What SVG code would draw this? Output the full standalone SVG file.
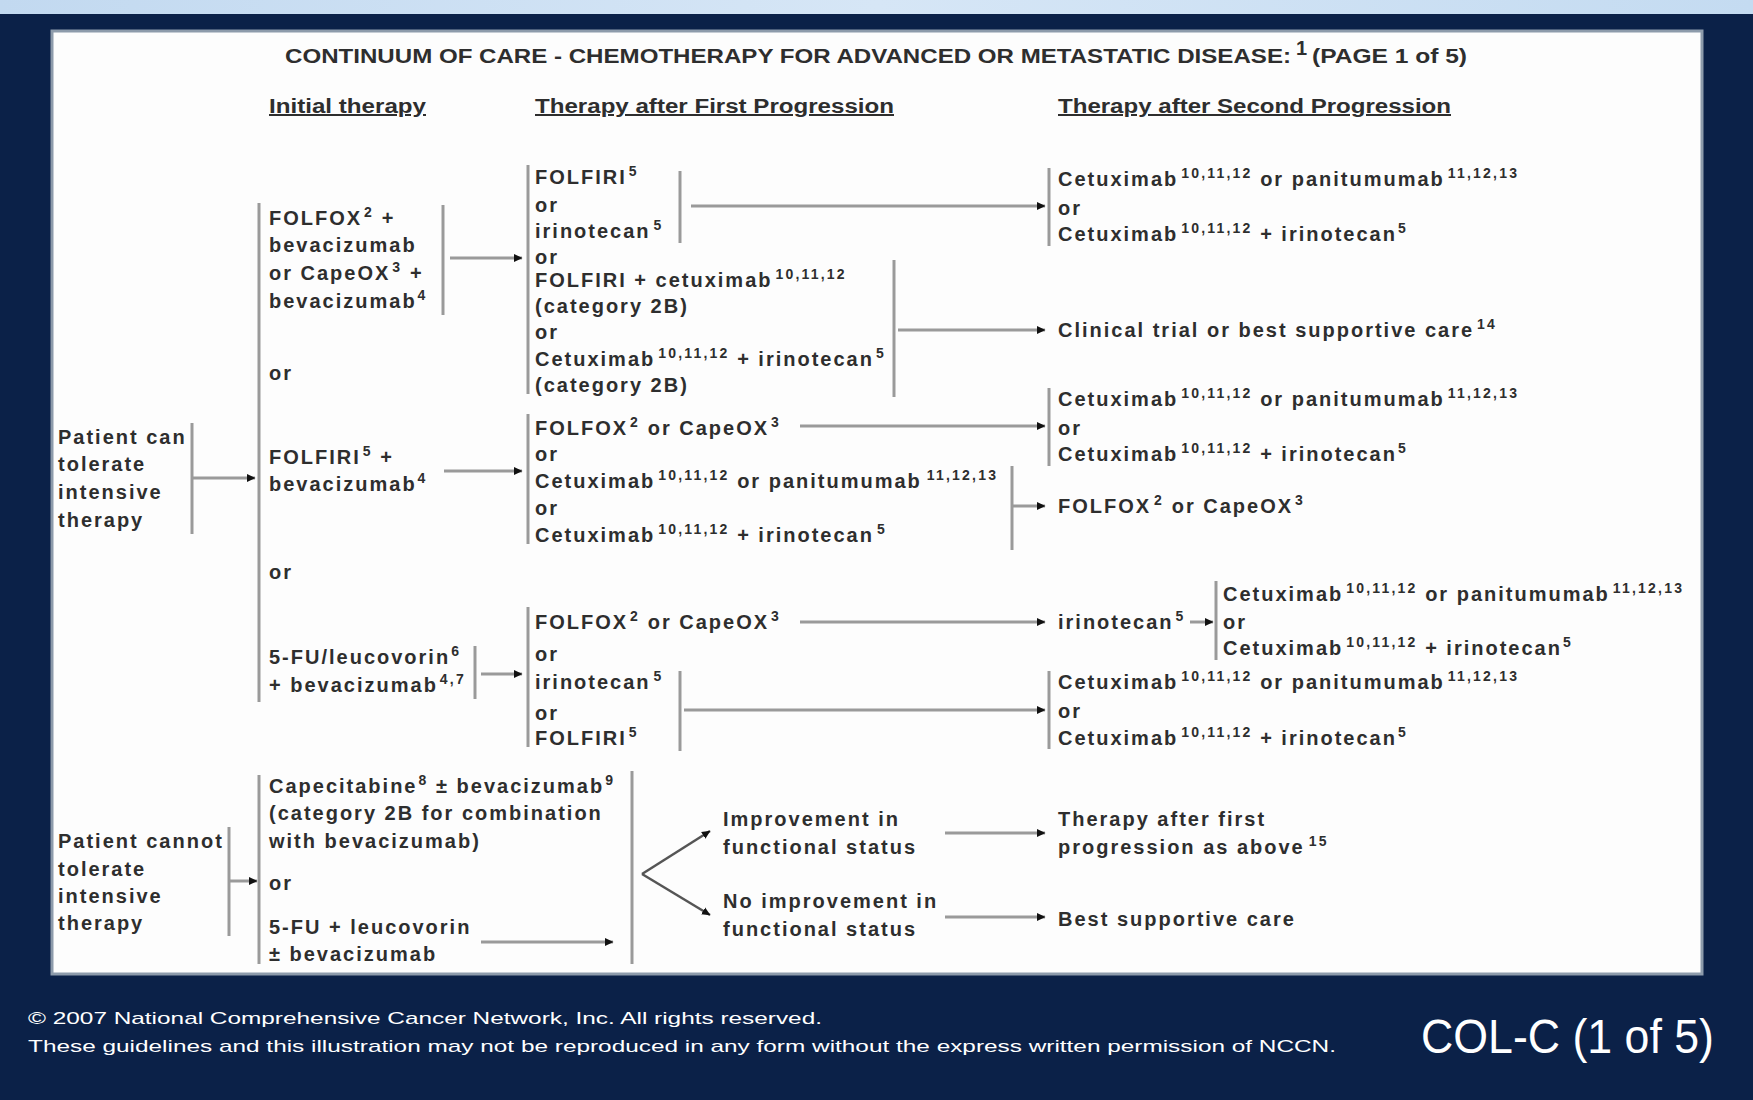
<svg xmlns="http://www.w3.org/2000/svg" width="1753" height="1100" viewBox="0 0 1753 1100">
<defs>
<linearGradient id="band" x1="0" y1="0" x2="1" y2="0">
<stop offset="0" stop-color="#c2d9f0"/><stop offset="0.5" stop-color="#d6e6f6"/><stop offset="1" stop-color="#c4dbf1"/>
</linearGradient>
<marker id="ah" markerWidth="9" markerHeight="9" refX="8" refY="4.5" orient="auto" markerUnits="userSpaceOnUse">
<path d="M0,0.5 L8.5,4.5 L0,8.5 z" fill="#111"/>
</marker>
<style>
.t{font-family:"Liberation Sans",Arial,sans-serif;font-weight:bold;font-size:20px;letter-spacing:2px;fill:#2e2e2e}
.s{font-size:14px;letter-spacing:2.2px}
.h{font-family:"Liberation Sans",Arial,sans-serif;font-weight:bold;font-size:20px;fill:#2e2e2e;text-decoration:underline}
.ttl{font-family:"Liberation Sans",Arial,sans-serif;font-weight:bold;font-size:20px;fill:#2e2e2e}
.ft{font-family:"Liberation Sans",Arial,sans-serif;font-size:17px;fill:#ffffff}
.ln{stroke:#9a9a9a;stroke-width:3;fill:none}
.ar{stroke:#9a9a9a;stroke-width:3;fill:none;marker-end:url(#ah)}
</style>
</defs>
<rect x="0" y="0" width="1753" height="1100" fill="#0b2148"/>
<rect x="0" y="0" width="1753" height="14" fill="url(#band)"/>
<rect x="52" y="31" width="1650" height="943" fill="#fdfdfd" stroke="#8d9bab" stroke-width="3"/>

<g id="title">
<text class="ttl" x="285" y="63" textLength="1006" lengthAdjust="spacingAndGlyphs">CONTINUUM OF CARE - CHEMOTHERAPY FOR ADVANCED OR METASTATIC DISEASE:</text>
<text class="ttl" x="1296" y="55" font-size="12">1</text>
<text class="ttl" x="1312" y="63" textLength="155" lengthAdjust="spacingAndGlyphs">(PAGE 1 of 5)</text>
</g>
<g id="headers">
<text class="h" x="269" y="113" textLength="157" lengthAdjust="spacingAndGlyphs">Initial therapy</text>
<text class="h" x="535" y="113" textLength="359" lengthAdjust="spacingAndGlyphs">Therapy after First Progression</text>
<text class="h" x="1058" y="113" textLength="393" lengthAdjust="spacingAndGlyphs">Therapy after Second Progression</text>
</g>

<g id="connectors">
<line class="ln" x1="192" y1="423" x2="192" y2="534"/>
<line class="ar" x1="192" y1="478" x2="255" y2="478"/>
<line class="ln" x1="259" y1="203" x2="259" y2="702"/>
<line class="ln" x1="443" y1="205" x2="443" y2="315"/>
<line class="ar" x1="450" y1="258" x2="522" y2="258"/>
<line class="ar" x1="444" y1="471" x2="522" y2="471"/>
<line class="ln" x1="475" y1="646" x2="475" y2="699"/>
<line class="ar" x1="481" y1="674" x2="522" y2="674"/>
<line class="ln" x1="528" y1="165" x2="528" y2="394"/>
<line class="ln" x1="680" y1="171" x2="680" y2="243"/>
<line class="ar" x1="691" y1="206" x2="1045" y2="206"/>
<line class="ln" x1="894" y1="260" x2="894" y2="397"/>
<line class="ar" x1="898" y1="330" x2="1045" y2="330"/>
<line class="ln" x1="528" y1="414" x2="528" y2="544"/>
<line class="ar" x1="800" y1="426" x2="1045" y2="426"/>
<line class="ln" x1="1012" y1="466" x2="1012" y2="550"/>
<line class="ar" x1="1012" y1="506" x2="1045" y2="506"/>
<line class="ln" x1="528" y1="607" x2="528" y2="747"/>
<line class="ar" x1="800" y1="622" x2="1045" y2="622"/>
<line class="ln" x1="680" y1="671" x2="680" y2="751"/>
<line class="ar" x1="684" y1="710" x2="1045" y2="710"/>
<line class="ln" x1="1049" y1="168" x2="1049" y2="246"/>
<line class="ln" x1="1049" y1="388" x2="1049" y2="466"/>
<line class="ln" x1="1216" y1="581" x2="1216" y2="660"/>
<line class="ar" x1="1190" y1="622" x2="1213" y2="622"/>
<line class="ln" x1="1049" y1="671" x2="1049" y2="749"/>
<line class="ln" x1="229" y1="827" x2="229" y2="936"/>
<line class="ar" x1="229" y1="881" x2="257" y2="881"/>
<line class="ln" x1="259" y1="775" x2="259" y2="964"/>
<line class="ar" x1="481" y1="942" x2="613" y2="942"/>
<line class="ln" x1="632" y1="771" x2="632" y2="964"/>
<line class="ar" x1="642" y1="874" x2="710" y2="831" style="stroke:#555;stroke-width:2.5"/>
<line class="ar" x1="642" y1="874" x2="710" y2="915" style="stroke:#555;stroke-width:2.5"/>
<line class="ar" x1="945" y1="833" x2="1045" y2="833"/>
<line class="ar" x1="945" y1="917" x2="1045" y2="917"/>
</g>

<g id="patient-can">
<text class="t" x="58" y="444">Patient can</text>
<text class="t" x="58" y="471">tolerate</text>
<text class="t" x="58" y="499">intensive</text>
<text class="t" x="58" y="527">therapy</text>
</g>
<g id="init-folfox">
<text class="t" x="269" y="225">FOLFOX<tspan class="s" dx="2" dy="-8">2</tspan><tspan dy="8"> +</tspan></text>
<text class="t" x="269" y="252">bevacizumab</text>
<text class="t" x="269" y="280">or CapeOX<tspan class="s" dx="2" dy="-8">3</tspan><tspan dy="8"> +</tspan></text>
<text class="t" x="269" y="308">bevacizumab<tspan class="s" dx="1" dy="-8">4</tspan></text>
</g>
<g id="or-1"><text class="t" x="269" y="380">or</text></g>
<g id="init-folfiri">
<text class="t" x="269" y="464">FOLFIRI<tspan class="s" dx="2" dy="-8">5</tspan><tspan dy="8"> +</tspan></text>
<text class="t" x="269" y="491">bevacizumab<tspan class="s" dx="1" dy="-8">4</tspan></text>
</g>
<g id="or-2"><text class="t" x="269" y="579">or</text></g>
<g id="init-5fu">
<text class="t" x="269" y="664">5-FU/leucovorin<tspan class="s" dx="1" dy="-8">6</tspan></text>
<text class="t" x="269" y="692">+ bevacizumab<tspan class="s" dx="2" dy="-8">4,7</tspan></text>
</g>

<g id="fp-1">
<text class="t" x="535" y="184">FOLFIRI<tspan class="s" dx="2" dy="-8">5</tspan></text>
<text class="t" x="535" y="212">or</text>
<text class="t" x="535" y="238">irinotecan<tspan class="s" dx="3" dy="-8">5</tspan></text>
<text class="t" x="535" y="264">or</text>
<text class="t" x="535" y="287">FOLFIRI + cetuximab<tspan class="s" dx="3" dy="-8">10,11,12</tspan></text>
<text class="t" x="535" y="313">(category 2B)</text>
<text class="t" x="535" y="339">or</text>
<text class="t" x="535" y="366">Cetuximab<tspan class="s" dx="3" dy="-8">10,11,12</tspan><tspan dy="8"> + irinotecan</tspan><tspan class="s" dx="2" dy="-8">5</tspan></text>
<text class="t" x="535" y="392">(category 2B)</text>
</g>
<g id="fp-2">
<text class="t" x="535" y="435">FOLFOX<tspan class="s" dx="2" dy="-8">2</tspan><tspan dy="8"> or CapeOX</tspan><tspan class="s" dx="2" dy="-8">3</tspan></text>
<text class="t" x="535" y="461">or</text>
<text class="t" x="535" y="488">Cetuximab<tspan class="s" dx="3" dy="-8">10,11,12</tspan><tspan dy="8"> or panitumumab</tspan><tspan class="s" dx="5" dy="-8">11,12,13</tspan></text>
<text class="t" x="535" y="515">or</text>
<text class="t" x="535" y="542">Cetuximab<tspan class="s" dx="3" dy="-8">10,11,12</tspan><tspan dy="8"> + irinotecan</tspan><tspan class="s" dx="3" dy="-8">5</tspan></text>
</g>
<g id="fp-3">
<text class="t" x="535" y="629">FOLFOX<tspan class="s" dx="2" dy="-8">2</tspan><tspan dy="8"> or CapeOX</tspan><tspan class="s" dx="2" dy="-8">3</tspan></text>
<text class="t" x="535" y="661">or</text>
<text class="t" x="535" y="689">irinotecan<tspan class="s" dx="3" dy="-8">5</tspan></text>
<text class="t" x="535" y="720">or</text>
<text class="t" x="535" y="745">FOLFIRI<tspan class="s" dx="2" dy="-8">5</tspan></text>
</g>

<g id="sp-a">
<text class="t" x="1058" y="186">Cetuximab<tspan class="s" dx="3" dy="-8">10,11,12</tspan><tspan dy="8"> or panitumumab</tspan><tspan class="s" dx="3" dy="-8">11,12,13</tspan></text>
<text class="t" x="1058" y="215">or</text>
<text class="t" x="1058" y="241">Cetuximab<tspan class="s" dx="3" dy="-8">10,11,12</tspan><tspan dy="8"> + irinotecan</tspan><tspan class="s" dx="1" dy="-8">5</tspan></text>
</g>
<g id="sp-clinical">
<text class="t" x="1058" y="337">Clinical trial or best supportive care<tspan class="s" dx="3" dy="-8">14</tspan></text>
</g>
<g id="sp-b">
<text class="t" x="1058" y="406">Cetuximab<tspan class="s" dx="3" dy="-8">10,11,12</tspan><tspan dy="8"> or panitumumab</tspan><tspan class="s" dx="3" dy="-8">11,12,13</tspan></text>
<text class="t" x="1058" y="435">or</text>
<text class="t" x="1058" y="461">Cetuximab<tspan class="s" dx="3" dy="-8">10,11,12</tspan><tspan dy="8"> + irinotecan</tspan><tspan class="s" dx="1" dy="-8">5</tspan></text>
</g>
<g id="sp-folfox">
<text class="t" x="1058" y="513">FOLFOX<tspan class="s" dx="3" dy="-8">2</tspan><tspan dy="8">  or CapeOX</tspan><tspan class="s" dx="2" dy="-8">3</tspan></text>
</g>
<g id="sp-irinotecan">
<text class="t" x="1058" y="629">irinotecan<tspan class="s" dx="2" dy="-8">5</tspan></text>
</g>
<g id="sp-irinotecan-next">
<text class="t" x="1223" y="601">Cetuximab<tspan class="s" dx="3" dy="-8">10,11,12</tspan><tspan dy="8"> or panitumumab</tspan><tspan class="s" dx="3" dy="-8">11,12,13</tspan></text>
<text class="t" x="1223" y="629">or</text>
<text class="t" x="1223" y="655">Cetuximab<tspan class="s" dx="3" dy="-8">10,11,12</tspan><tspan dy="8"> + irinotecan</tspan><tspan class="s" dx="1" dy="-8">5</tspan></text>
</g>
<g id="sp-c">
<text class="t" x="1058" y="689">Cetuximab<tspan class="s" dx="3" dy="-8">10,11,12</tspan><tspan dy="8"> or panitumumab</tspan><tspan class="s" dx="3" dy="-8">11,12,13</tspan></text>
<text class="t" x="1058" y="718">or</text>
<text class="t" x="1058" y="745">Cetuximab<tspan class="s" dx="3" dy="-8">10,11,12</tspan><tspan dy="8"> + irinotecan</tspan><tspan class="s" dx="1" dy="-8">5</tspan></text>
</g>

<g id="patient-cannot">
<text class="t" x="58" y="848">Patient cannot</text>
<text class="t" x="58" y="876">tolerate</text>
<text class="t" x="58" y="903">intensive</text>
<text class="t" x="58" y="930">therapy</text>
</g>
<g id="init-cape">
<text class="t" x="269" y="793">Capecitabine<tspan class="s" dx="1" dy="-8">8</tspan><tspan dy="8"> ± bevacizumab</tspan><tspan class="s" dx="1" dy="-8">9</tspan></text>
<text class="t" x="269" y="820">(category 2B for combination</text>
<text class="t" x="269" y="848">with bevacizumab)</text>
<text class="t" x="269" y="890">or</text>
<text class="t" x="269" y="934">5-FU + leucovorin</text>
<text class="t" x="269" y="961">± bevacizumab</text>
</g>
<g id="improvement">
<text class="t" x="723" y="826">Improvement in</text>
<text class="t" x="723" y="854">functional status</text>
</g>
<g id="no-improvement">
<text class="t" x="723" y="908">No improvement in</text>
<text class="t" x="723" y="936">functional status</text>
</g>
<g id="therapy-after-first">
<text class="t" x="1058" y="826">Therapy after first</text>
<text class="t" x="1058" y="854">progression as above<tspan class="s" dx="4" dy="-8">15</tspan></text>
</g>
<g id="best-supportive">
<text class="t" x="1058" y="926">Best supportive care</text>
</g>

<g id="footer">
<text class="ft" x="28" y="1024" textLength="794" lengthAdjust="spacingAndGlyphs">© 2007 National Comprehensive Cancer Network, Inc. All rights reserved.</text>
<text class="ft" x="28" y="1052" textLength="1308" lengthAdjust="spacingAndGlyphs">These guidelines and this illustration may not be reproduced in any form without the express written permission of NCCN.</text>
<text x="1421" y="1053" font-family="Liberation Sans, Arial, sans-serif" font-size="48" fill="#ffffff" textLength="293" lengthAdjust="spacingAndGlyphs">COL-C (1 of 5)</text>
</g>
</svg>
